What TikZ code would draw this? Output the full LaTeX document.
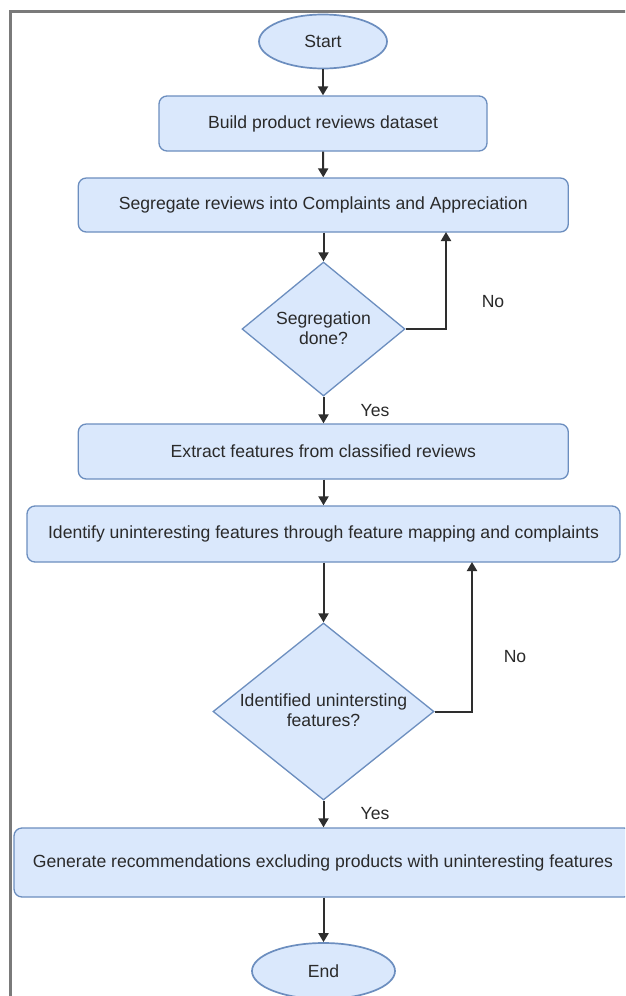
\documentclass[tikz,border=0pt]{standalone}
\usepackage{fontspec}
\setmainfont{Liberation Sans}
\usetikzlibrary{shapes.geometric,arrows.meta}
\definecolor{boxfill}{HTML}{DAE8FC}
\definecolor{boxline}{HTML}{6C8EBF}
\definecolor{txt}{HTML}{2A2A2A}
\definecolor{framecol}{HTML}{7A7A7A}
\definecolor{arrcol}{HTML}{2E2E2E}
\begin{document}
\begin{tikzpicture}[x=1pt,y=-1pt,
  every node/.style={font=\fontsize{17.6}{20}\selectfont, text=txt},
  proc/.style={draw=boxline, fill=boxfill, line width=1.3pt, rounded corners=8pt, inner sep=0pt},
  term/.style={ellipse, draw=boxline, fill=boxfill, line width=1.7pt, inner sep=0pt},
  dec/.style={diamond, draw=boxline, fill=boxfill, line width=1.3pt, inner sep=0pt},
  flow/.style={draw=arrcol, line width=2pt, -{Triangle[length=9pt,width=10pt]}},
  lbl/.style={inner sep=0pt, align=center}
]
\useasboundingbox (0,0) rectangle (625,996);
\clip (0,0) rectangle (625,996);
\fill[white] (0,0) rectangle (625,996);
% frame
\draw[framecol, line width=3pt] (10,1000) -- (10,11) -- (630,11);

% nodes
\node[term, minimum width=128pt, minimum height=54pt] (start) at (323,41.5) {Start};
\node[proc, minimum width=328pt, minimum height=55pt] (build) at (323,123.5) {Build product reviews dataset};
\node[proc, minimum width=490pt, minimum height=54pt] (seg) at (323.3,205) {Segregate reviews into Complaints and Appreciation};
\node[dec, minimum width=163pt, minimum height=134pt] (d1) at (323.5,329) {};
\node[lbl] (d1t) at (323.5,328) {Segregation\\done?};
\node[proc, minimum width=490pt, minimum height=55pt] (ext) at (323.3,451.5) {Extract features from classified reviews};
\node[proc, minimum width=593pt, minimum height=56pt] (iden) at (323.5,534) {Identify uninteresting features through feature mapping and complaints};
\node[dec, minimum width=221pt, minimum height=177pt] (d2) at (323.5,711.5) {};
\node[lbl] (d2t) at (323.5,710) {Identified unintersting\\features?};
\node[proc, minimum width=618pt, minimum height=69pt] (gen) at (323,862.5) {Generate recommendations excluding products with uninteresting features};
\node[term, minimum width=143pt, minimum height=56pt] (end) at (323.5,971) {End};

% labels
\node[lbl] (no1) at (493,302) {No};
\node[lbl] (yes1) at (375,411) {Yes};
\node[lbl] (no2) at (515,657) {No};
\node[lbl] (yes2) at (375,814) {Yes};

% loop-back coordinates
\coordinate (r1) at (446,232);
\coordinate (r2) at (472,562);

% connectors
\draw[flow] (start.south) -- (build.north);
\draw[flow] (build.south) -- (seg.north);
\draw[flow] (seg.south -| d1.north) -- (d1.north);
\draw[flow] (d1.east) -| (r1);
\draw[flow] (d1.south) -- (ext.north -| d1.south);
\draw[flow] (ext.south -| d1.south) -- (iden.north -| d1.south);
\draw[flow] (iden.south -| d2.north) -- (d2.north);
\draw[flow] (d2.east) -| (r2);
\draw[flow] (d2.south) -- (gen.north -| d2.south);
\draw[flow] (gen.south -| end.north) -- (end.north);
\end{tikzpicture}
\end{document}
